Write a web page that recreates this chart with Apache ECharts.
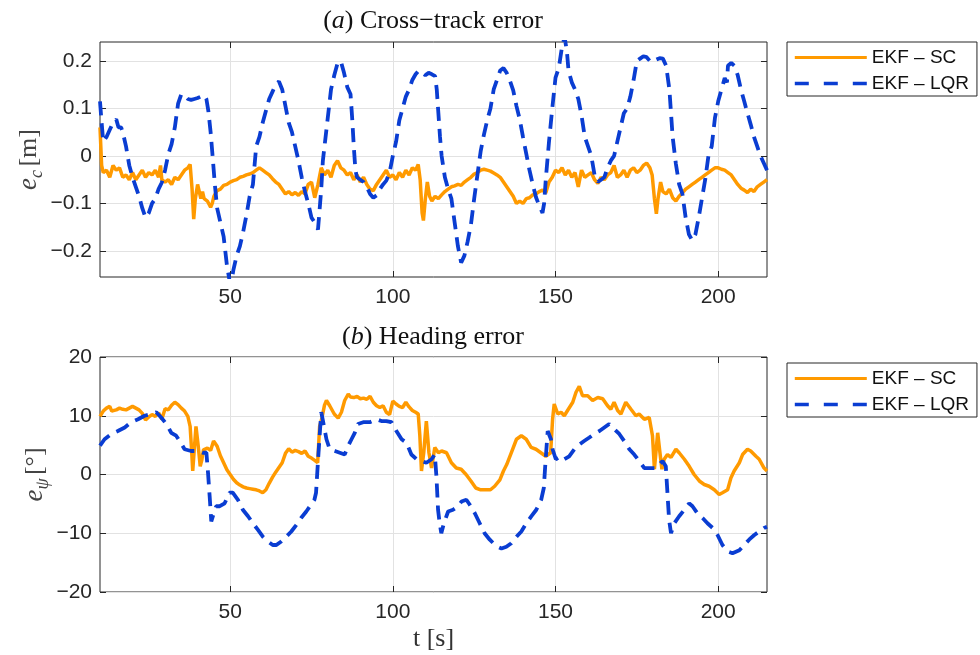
<!DOCTYPE html>
<html>
<head>
<meta charset="utf-8">
<script src="https://cdn.jsdelivr.net/npm/echarts@6/dist/echarts.min.js"></script>
<style>
    html, body { margin: 0; padding: 0; background: #fff; }
    #chart { width: 980px; height: 655px; }
</style>
</head>
<body>
<div id="chart"></div>
<script>
// time axis ticks
const tTicks = [50, 100, 150, 200];
const ecTicks = [-0.2, -0.1, 0, 0.1, 0.2];
const epsiTicks = [-20, -10, 0, 10, 20];
const legendNames = ['EKF \u2013 SC', 'EKF \u2013 LQR'];

// (a) cross-track error [m], pairs of [t, value]
const ecSC = [[10,0.06],[10.5,-0.02],[11,-0.035],[12,-0.03],[13,-0.045],[14,-0.02],[15,-0.03],[16,-0.025],[17,-0.045],[18,-0.04],[19,-0.05],[20,-0.035],[21,-0.05],[22,-0.04],[23,-0.03],[24,-0.045],[25,-0.035],[26,-0.04],[27,-0.03],[28,-0.045],[28.6,-0.02],[29,-0.05],[30,-0.055],[31,-0.05],[32,-0.06],[33,-0.045],[34,-0.05],[35,-0.04],[36,-0.03],[37,-0.025],[37.7,-0.018],[38.3,-0.07],[38.8,-0.133],[39.3,-0.09],[40,-0.06],[40.5,-0.058],[41,-0.09],[41.5,-0.075],[42,-0.09],[43,-0.095],[44,-0.108],[44.5,-0.1],[45,-0.085],[46,-0.073],[47,-0.07],[48,-0.062],[49,-0.06],[50,-0.055],[51,-0.052],[52,-0.05],[53,-0.045],[54,-0.043],[55,-0.04],[56,-0.038],[57,-0.035],[58,-0.03],[59,-0.025],[60,-0.03],[61,-0.035],[62,-0.04],[63,-0.048],[64,-0.055],[65,-0.06],[66,-0.07],[67,-0.08],[68,-0.075],[69,-0.082],[70,-0.077],[71,-0.083],[72,-0.075],[73,-0.08],[74,-0.06],[75,-0.055],[76,-0.088],[77,-0.06],[78,-0.025],[79,-0.04],[80,-0.03],[81,-0.045],[82,-0.02],[83,-0.01],[84,-0.025],[85,-0.03],[86,-0.04],[87,-0.035],[88,-0.05],[89,-0.04],[90,-0.055],[91,-0.045],[92,-0.06],[93,-0.07],[94,-0.073],[95,-0.06],[96,-0.05],[97,-0.04],[98,-0.03],[99,-0.045],[100,-0.04],[101,-0.05],[102,-0.035],[103,-0.045],[104,-0.03],[105,-0.04],[106,-0.025],[107,-0.03],[107.8,-0.018],[108.4,-0.05],[109,-0.12],[109.4,-0.136],[110,-0.09],[110.6,-0.055],[111.3,-0.085],[112,-0.095],[113,-0.085],[114,-0.09],[115,-0.082],[116,-0.075],[117,-0.07],[118,-0.065],[119,-0.063],[120,-0.06],[121,-0.062],[122,-0.055],[123,-0.05],[124,-0.045],[125,-0.038],[126,-0.035],[127,-0.03],[128,-0.028],[129,-0.03],[130,-0.032],[131,-0.036],[132,-0.04],[133,-0.045],[134,-0.055],[135,-0.065],[136,-0.075],[137,-0.085],[138,-0.1],[139,-0.095],[140,-0.1],[141,-0.09],[142,-0.088],[143,-0.082],[144,-0.08],[145,-0.075],[146,-0.072],[147,-0.078],[148,-0.055],[149,-0.045],[150,-0.03],[151,-0.035],[152,-0.025],[153,-0.04],[154,-0.03],[155,-0.045],[156,-0.035],[157,-0.065],[158,-0.03],[159,-0.045],[160,-0.04],[161,-0.035],[162,-0.05],[163,-0.058],[164,-0.045],[165,-0.05],[166,-0.04],[167,-0.035],[168,-0.02],[169,-0.045],[170,-0.04],[171,-0.03],[172,-0.045],[173,-0.03],[174,-0.025],[175,-0.035],[176,-0.03],[177,-0.02],[178,-0.015],[179,-0.025],[179.7,-0.04],[180.4,-0.09],[181,-0.122],[181.5,-0.09],[182.3,-0.055],[183,-0.075],[184,-0.08],[185,-0.07],[186,-0.088],[187,-0.095],[188,-0.085],[189,-0.078],[190,-0.07],[191,-0.065],[192,-0.06],[193,-0.055],[194,-0.05],[195,-0.045],[196,-0.04],[197,-0.035],[198,-0.03],[199,-0.025],[200,-0.025],[201,-0.028],[202,-0.03],[203,-0.035],[204,-0.04],[205,-0.05],[206,-0.06],[207,-0.068],[208,-0.072],[209,-0.077],[210,-0.07],[211,-0.075],[212,-0.065],[213,-0.06],[214,-0.055],[215,-0.05]];
const ecLQR = [[10,0.115],[10.5,0.07],[11,0.03],[12,0.04],[13,0.055],[14,0.07],[15,0.077],[15.7,0.06],[16.5,0.06],[17,0.05],[18,0.02],[19,-0.02],[20,-0.045],[21,-0.065],[22,-0.085],[23,-0.11],[24,-0.13],[25,-0.12],[26,-0.1],[27,-0.09],[28,-0.07],[29,-0.056],[30,-0.03],[31,0.004],[32,0.025],[33,0.06],[34,0.11],[35,0.13],[36,0.127],[37,0.12],[38,0.118],[39,0.12],[40,0.122],[41,0.125],[42,0.128],[42.7,0.12],[43.3,0.095],[44,0.05],[44.6,0],[45.3,-0.06],[46,-0.11],[47,-0.14],[48,-0.17],[49,-0.23],[50,-0.27],[50.5,-0.26],[51,-0.24],[52,-0.21],[53,-0.19],[54,-0.16],[55,-0.125],[56,-0.085],[57,-0.06],[57.5,-0.02],[58,0.02],[59,0.04],[60,0.07],[61,0.095],[62,0.12],[63,0.135],[64,0.15],[65,0.157],[65.5,0.16],[66,0.14],[67,0.105],[68,0.07],[69,0.05],[70,0.02],[71,-0.01],[72,-0.045],[73,-0.075],[74,-0.1],[75,-0.13],[76,-0.14],[77,-0.155],[77.5,-0.157],[78,-0.07],[78.5,-0.01],[79,0.02],[80,0.08],[81,0.14],[82,0.17],[83,0.195],[84,0.2],[84.5,0.197],[85,0.175],[86,0.145],[87,0.13],[87.5,0.08],[88,0.02],[88.5,-0.03],[89,-0.045],[90,-0.05],[91,-0.055],[92,-0.065],[93,-0.08],[94,-0.088],[95,-0.083],[96,-0.07],[97,-0.06],[98,-0.052],[99,-0.035],[100,0],[101,0.03],[102,0.075],[103,0.1],[104,0.125],[105,0.14],[106,0.16],[107,0.172],[108,0.18],[109,0.175],[110,0.17],[111,0.175],[112,0.172],[113,0.168],[113.5,0.14],[114,0.09],[114.5,0.04],[115,0],[116,-0.045],[117,-0.07],[118,-0.09],[119,-0.14],[120,-0.19],[121,-0.225],[121.5,-0.229],[122,-0.21],[123,-0.18],[124,-0.145],[125,-0.09],[126,-0.04],[127,0.01],[128,0.045],[129,0.075],[130,0.1],[131,0.14],[132,0.16],[133,0.18],[134,0.185],[135,0.175],[136,0.158],[137,0.138],[138,0.105],[139,0.077],[140,0.04],[141,0.005],[142,-0.03],[143,-0.06],[144,-0.087],[145,-0.105],[146,-0.12],[146.5,-0.1],[147,-0.05],[148,0.03],[149,0.1],[150,0.165],[151,0.185],[152,0.23],[152.8,0.25],[153.5,0.22],[154,0.18],[155,0.155],[156,0.14],[157,0.12],[158,0.085],[159,0.04],[160,0.02],[161,0],[162,-0.04],[163,-0.055],[164,-0.05],[165,-0.045],[166,-0.025],[167,-0.01],[168,0],[169,0.03],[170,0.06],[171,0.09],[172,0.1],[173,0.125],[174,0.16],[175,0.2],[176,0.205],[177,0.21],[178,0.208],[179,0.2],[180,0.198],[181,0.203],[182,0.206],[183,0.205],[184,0.19],[185,0.14],[186,0.04],[187,-0.017],[188,-0.06],[189,-0.08],[190,-0.13],[191,-0.165],[192,-0.178],[193,-0.165],[194,-0.13],[195,-0.09],[196,-0.05],[197,0],[198,0.02],[199,0.08],[200,0.115],[201,0.14],[202,0.164],[202.7,0.155],[203,0.19],[204,0.196],[205,0.19],[206,0.17],[207,0.14],[208,0.115],[209,0.09],[210,0.066],[211,0.04],[212,0.02],[213,0],[214,-0.015],[215,-0.03]];

// (b) heading error [deg]
const epsiSC = [[10,9.9],[11,10.8],[12,11.3],[13,11.6],[13.6,10.8],[14,10.9],[15,11],[16,11.3],[17,11.1],[18,11],[19,11.3],[20,11.6],[21,11.3],[22,11],[23,10.4],[24,9.3],[25,9.8],[26,10.2],[27,9.9],[28,10.5],[29,9.4],[30,11.2],[31,11],[32,11.8],[33,12.3],[34,11.9],[35,11.3],[36,10.8],[37,9.9],[37.7,8.2],[38.2,3.7],[38.5,0.6],[38.9,3.7],[39.5,8.2],[40.2,4.8],[40.8,1.4],[41.3,2.5],[41.8,4.2],[43,4.5],[44,4.1],[44.9,5.7],[46,4.8],[47,3.2],[48,2],[49,0.8],[50,0],[51,-0.8],[52,-1.4],[53,-1.8],[54,-2.1],[55,-2.3],[56,-2.4],[57,-2.5],[58,-2.6],[59,-2.8],[60,-3.1],[61,-2.6],[62,-1.5],[63,-0.5],[64,0.4],[65,1.2],[66,2],[67,3.6],[68,4.4],[69,3.8],[70,4.1],[71,3.9],[72,3.6],[73,4],[74,3.1],[75,2.8],[76,2.4],[76.9,2],[77.5,8.2],[78.2,9.6],[79,11.8],[79.6,12.6],[80.6,11.7],[82,10.3],[83.2,9.6],[84.2,10.6],[85.2,12.6],[86.3,13.7],[87,13.2],[88,13.1],[89,13.3],[90,12.9],[91,13],[92,12.8],[93,13.3],[94,12.3],[95,11.7],[96,11.4],[97,11.7],[98,10.6],[99,10.2],[100,12.5],[101,12],[102,11.6],[103,11.4],[104,12.3],[105,11.5],[106,10.9],[107,10.6],[107.8,10.3],[108.3,6.6],[108.8,0.6],[109.5,3.7],[110.3,9.1],[111.1,3.7],[111.9,1.1],[112.9,4.6],[114,3.7],[115,4],[116.5,3.7],[118,2],[119.5,1.1],[121,0.9],[122.5,0],[124,-1.1],[125.5,-2.3],[127,-2.6],[128.5,-2.6],[130,-2.6],[131.3,-2],[132.9,-0.9],[134,0.6],[135,1.7],[136.4,3.7],[138,6],[139.5,6.6],[141,6],[142.5,4.6],[144,4.3],[145.5,3.7],[147,3.1],[148.5,3.7],[149.1,9.4],[149.6,12],[150.7,10.3],[151.7,10.6],[152.7,10],[153.7,10.9],[155.3,12.3],[156.3,14],[157.3,15],[158.3,13.4],[159.9,13.4],[161.4,12.6],[163,13.1],[164.5,12.9],[166,11.7],[167,11.1],[168,12.3],[169.1,10.9],[170.1,10.3],[171.6,12.3],[173.2,11.1],[174.7,10],[175.7,10.3],[177.3,9.4],[178.8,9.7],[179.8,6.6],[180.4,0.9],[181.4,7.1],[182.1,3.7],[182.7,0.9],[183.4,2.6],[184.4,3.4],[185.5,2.9],[187,4.3],[188,3.7],[189.6,2.6],[191.1,1.4],[192.6,0],[194.2,-1.1],[195.7,-1.7],[197.2,-2],[198.8,-2.6],[200.3,-3.4],[201.3,-3.1],[202.9,-2.6],[203.9,-0.6],[204.9,0.6],[206.5,2],[207.5,3.4],[209,4.3],[210,4],[211.6,3.1],[212.6,2.6],[214.1,1.1],[215,0.6]];
const epsiLQR = [[10,4.9],[11.4,6],[13.5,6.9],[15.5,7.4],[17.6,8],[19.6,8.9],[21.7,9.4],[23.7,10],[25.8,10.3],[27.3,10.6],[28.8,9.7],[30.4,8.6],[31.9,7.1],[33.4,6.6],[34.5,5.7],[36,4.3],[38,4],[40,4],[41.6,3.7],[42.7,3.7],[43.2,0.3],[43.7,-3.7],[44.2,-8],[44.7,-7.1],[45.7,-5.4],[46.8,-5.4],[48.3,-4.9],[49.8,-3.1],[50.8,-3.1],[52.4,-4.3],[53.9,-6],[55.5,-7.1],[57,-8.3],[58.5,-9.4],[60.1,-10.6],[61.6,-11.4],[63.1,-12],[64.2,-12],[65.7,-11.4],[67.2,-10.6],[68.8,-9.7],[70.3,-8.6],[71.8,-7.4],[73.4,-6.3],[74.9,-5.1],[75.9,-4.3],[76.4,-3.1],[76.9,1.4],[77.5,6.6],[78,10.6],[78.6,8.9],[79.6,6],[80.6,4.3],[82.2,4],[83.7,3.7],[85.2,3.4],[86.3,4.9],[87.3,6],[88.3,7.1],[89.3,8.6],[90.9,8.9],[92.9,8.9],[95,9.4],[96.5,9.1],[98,9.1],[99.6,8.9],[101.1,7.4],[102.7,6],[104.2,5.4],[105.7,3.4],[107.3,2.6],[108.8,2.3],[110.3,2],[111.9,2.6],[112.9,3.4],[113.4,-0.3],[113.9,-6],[114.4,-8.3],[114.9,-10],[115.7,-8.3],[117,-6.3],[118.5,-6],[120.1,-5.4],[121.1,-4.6],[122.6,-4.3],[123.6,-5.1],[125.2,-6.6],[126.7,-8.3],[128.2,-10],[129.8,-11.1],[131.8,-12.2],[133.4,-12.6],[134.9,-12.3],[136.4,-11.7],[138,-10.6],[139.5,-9.7],[141,-8.3],[142.6,-7.1],[144.1,-6],[145.6,-4.3],[146.4,-2.3],[146.9,2],[147.6,7.4],[148.6,6],[149.1,4.3],[150.1,2.6],[151.7,3.1],[152.7,2.6],[154.2,3.1],[155.8,4.3],[157.3,5.1],[158.8,5.7],[160.4,6.3],[161.9,6.9],[163.5,7.4],[165,8],[166.5,8.6],[168.1,7.7],[169.6,6.9],[171.1,5.7],[172.7,4.3],[174.2,3.4],[175.7,2.3],[177.3,1.1],[178.8,1.1],[180.9,1.1],[182.9,2.3],[183.9,1.4],[184.4,-3.1],[184.9,-7.7],[185.5,-10],[186.5,-8.3],[188,-7.1],[189.6,-6],[191.1,-4.9],[192.1,-5.4],[193.6,-6.6],[195.2,-7.4],[196.7,-8.3],[198.3,-9.1],[199.8,-10.3],[201.3,-12],[202.9,-13.1],[204.4,-13.4],[206.5,-12.9],[208,-12],[209.5,-11.1],[211.1,-10.3],[212.6,-9.7],[214.1,-9.1],[215,-8.9]];

const ORANGE = '#ff9a00';
const BLUE = '#0a3dd2';
const AXIS = '#262626';
const GRIDC = '#e2e2e2';
const sans = 'Liberation Sans, Arial, sans-serif';
const serif = 'Liberation Serif, Times New Roman, serif';

let chart = echarts.init(document.getElementById('chart'), null, {renderer: 'canvas'});

function minus(v){
    return String(v).replace('-', '\u2212');
}

function tickStyle(values){
    return {show: true, inside: true, length: 6, customValues: values, lineStyle: {color: AXIS}};
}

// bottom x axis with labels, plus a bare top axis for the inner ticks
function xAxes(grid, withName){
    let bottom = {
        type: 'value', gridIndex: grid, min: 10, max: 215, position: 'bottom',
        axisLine: {show: false, onZero: false},
        axisTick: tickStyle(tTicks),
        axisLabel: {customValues: tTicks, margin: 10, color: AXIS, fontSize: 21, fontFamily: sans},
        splitLine: {show: true, lineStyle: {color: GRIDC, width: 1}}
    };
    if(withName){
        bottom.name = '{n|t [s]}';
        bottom.nameLocation = 'middle';
        bottom.nameGap = 34;
        bottom.nameMoveOverlap = false;
        bottom.nameTextStyle = {rich: {n: {fontFamily: serif, fontSize: 26, color: '#333'}}};
    }
    let top = {
        type: 'value', gridIndex: grid, min: 10, max: 215, position: 'top',
        axisLine: {show: false, onZero: false},
        axisTick: tickStyle(tTicks),
        axisLabel: {show: false},
        splitLine: {show: false}
    };
    return [bottom, top];
}

function yAxes(grid, min, max, ticks, name, gap){
    let left = {
        type: 'value', gridIndex: grid, min: min, max: max, position: 'left',
        axisLine: {show: false, onZero: false},
        axisTick: tickStyle(ticks),
        axisLabel: {customValues: ticks, margin: 8, color: AXIS, fontSize: 21, fontFamily: sans, formatter: minus},
        splitLine: {show: true, lineStyle: {color: GRIDC, width: 1}},
        name: name, nameLocation: 'middle', nameGap: gap, nameMoveOverlap: false,
        nameTextStyle: {rich: nameRich}
    };
    let right = {
        type: 'value', gridIndex: grid, min: min, max: max, position: 'right',
        axisLine: {show: false, onZero: false},
        axisTick: tickStyle(ticks),
        axisLabel: {show: false},
        splitLine: {show: false}
    };
    return [left, right];
}

let nameRich = {
    e: {fontFamily: serif, fontStyle: 'italic', fontSize: 27, color: '#444', lineHeight: 34, verticalAlign: 'middle'},
    s: {fontFamily: serif, fontStyle: 'italic', fontSize: 18, color: '#444', lineHeight: 20, verticalAlign: 'bottom'},
    n: {fontFamily: serif, fontSize: 26, color: '#444', lineHeight: 34, verticalAlign: 'middle'}
};

let titleRich = {
    n: {fontFamily: serif, fontSize: 26, fontWeight: 'normal', color: '#111'},
    i: {fontFamily: serif, fontSize: 26, fontWeight: 'normal', fontStyle: 'italic', color: '#111'}
};

function legendAt(top){
    return {
        show: true, type: 'plain', orient: 'vertical',
        left: 787, top: top, right: 'auto', bottom: 'auto',
        itemWidth: 72, itemHeight: 20, itemGap: 7,
        padding: [6, 8, 3, 6], borderColor: AXIS, borderWidth: 1, backgroundColor: '#fff',
        // hide the round marker, keep only the line sample
        itemStyle: {opacity: 0, color: 'rgba(0,0,0,0)', borderWidth: 0},
        lineStyle: {width: 3.2},
        textStyle: {fontFamily: sans, fontSize: 19, color: '#111'},
        data: [
            {name: legendNames[0]},
            {name: legendNames[1], lineStyle: {width: 3.6, type: [14, 15]}}
        ]
    };
}

function line(name, data, xi, yi, color, dashed){
    return {
        name: name, type: 'line', data: data, xAxisIndex: xi, yAxisIndex: yi,
        showSymbol: false, symbol: 'none', smooth: false, clip: true,
        lineStyle: dashed ? {color: color, width: 3.8, type: [14, 8]} : {color: color, width: 3.5},
        itemStyle: {color: color},
        emphasis: {disabled: true}
    };
}

let xs = xAxes(0, false).concat(xAxes(1, true));
let ys = yAxes(0, -0.255, 0.24, ecTicks, '{e|e}{s|c} {n|[m]}', 54)
    .concat(yAxes(1, -20, 20, epsiTicks, '{e|e}{s|\u03c8} {n|[\u00b0]}', 48));

let option = {
    animation: false,
    backgroundColor: '#fff',
    title: [
        {text: '{n|(}{i|a}{n|) Cross\u2212track error}', left: 433, top: 8, textAlign: 'center', padding: 0, textStyle: {fontWeight: 'normal', rich: titleRich}},
        {text: '{n|(}{i|b}{n|) Heading error}', left: 433, top: 324, textAlign: 'center', padding: 0, textStyle: {fontWeight: 'normal', rich: titleRich}}
    ],
    grid: [
        {left: 100, top: 42, width: 667, height: 235, show: true, borderColor: AXIS, borderWidth: 1, backgroundColor: 'transparent'},
        {left: 100, top: 357, width: 667, height: 235, show: true, borderColor: AXIS, borderWidth: 1, backgroundColor: 'transparent'}
    ],
    legend: [legendAt(42), legendAt(363)],
    xAxis: xs,
    yAxis: ys,
    series: [
        line(legendNames[0], ecSC, 0, 0, ORANGE, false),
        line(legendNames[1], ecLQR, 0, 0, BLUE, true),
        line(legendNames[0], epsiSC, 2, 2, ORANGE, false),
        line(legendNames[1], epsiLQR, 2, 2, BLUE, true)
    ]
};

chart.setOption(option);
</script>
</body>
</html>
